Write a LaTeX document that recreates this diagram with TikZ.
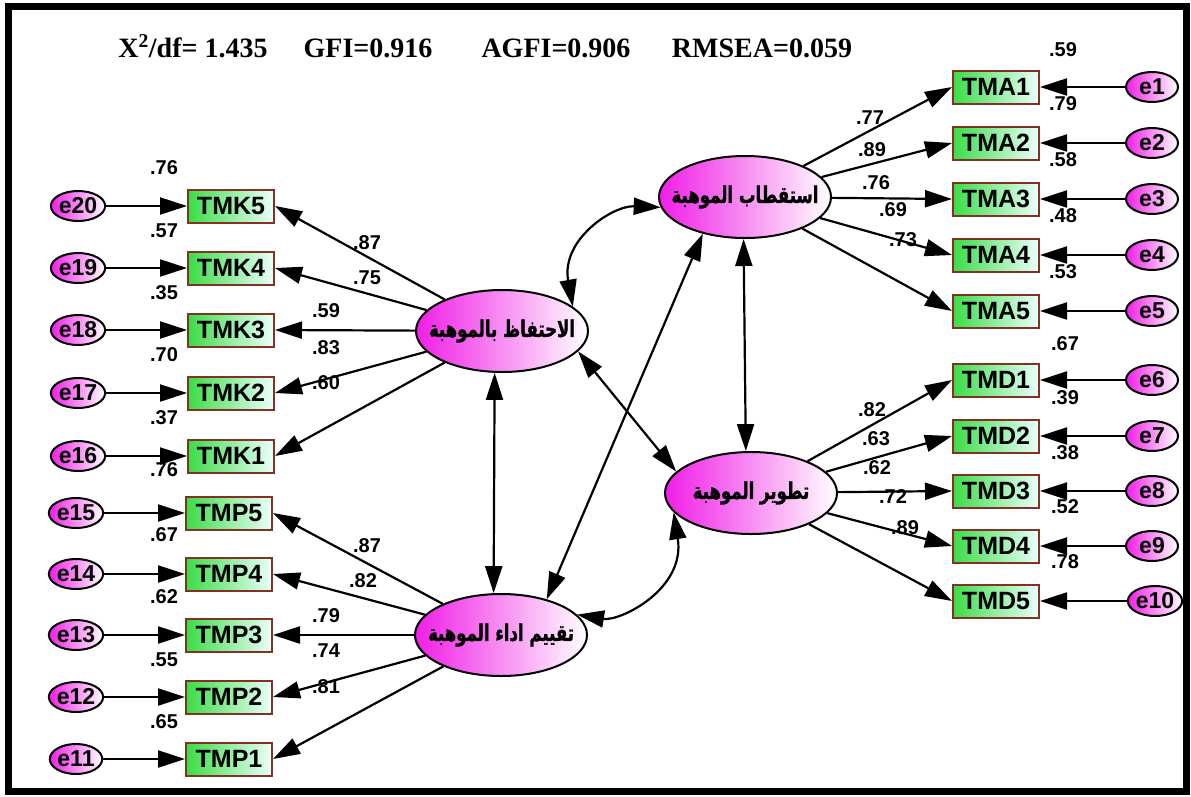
\documentclass[tikz,border=0pt]{standalone}
\usepackage{fontspec}
\setmainfont{Liberation Sans}
\newfontfamily\arabicfont[Script=Arabic,FakeStretch=0.72,FakeBold=1.2]{DejaVu Sans}
\newfontfamily\headfont{Liberation Serif}
\TeXXeTstate=1
\usetikzlibrary{arrows.meta,shapes.geometric}

\definecolor{magfill}{RGB}{240,30,230}
\definecolor{magmid}{RGB}{248,140,242}
\definecolor{boxgreen}{RGB}{60,220,70}
\definecolor{boxlight}{RGB}{235,255,252}
\definecolor{boxedge}{RGB}{130,50,35}

\tikzset{
  latent/.style={ellipse, draw, line width=2pt, left color=magfill, middle color=magmid, right color=white,
    minimum width=172pt, minimum height=82pt, inner xsep=-30pt, inner ysep=0pt,
    font=\arabicfont\bfseries\fontsize{23}{23}\selectfont},
  obs/.style={rectangle, draw=boxedge, line width=2pt, left color=boxgreen, right color=boxlight,
    minimum width=86pt, minimum height=33pt, inner sep=0pt,
    font=\bfseries\fontsize{25}{25}\selectfont},
  err/.style={ellipse, draw, line width=2pt, left color=magfill, right color=white,
    minimum width=52pt, minimum height=30pt, inner sep=0pt,
    font=\bfseries\fontsize{23}{23}\selectfont},
  val/.style={font=\bfseries\fontsize{20}{20}\selectfont, inner sep=0pt},
  head/.style={font=\headfont\bfseries\fontsize{28}{28}\selectfont, inner sep=0pt, anchor=base},
  arr/.style={line width=2.2pt, -{Triangle[length=27pt,width=17pt]}},
  darr/.style={line width=2.2pt, {Triangle[length=27pt,width=17pt]}-{Triangle[length=27pt,width=17pt]}}
}

\begin{document}
\begin{tikzpicture}[x=1pt,y=-1pt]
  % canvas and frame
  \fill[white] (0,0) rectangle (1191,796);
  \useasboundingbox (0,0) rectangle (1191,796);
  \draw[line width=7pt] (8.5,6) rectangle (1186,791.5);

  % fit indices
  \node[head] (chi)   at (193,57) {X\textsuperscript{2}/df= 1.435};
  \node[head] (gfi)   at (368,57) {GFI=0.916};
  \node[head] (agfi)  at (556,57) {AGFI=0.906};
  \node[head] (rmsea) at (762,57) {RMSEA=0.059};

  % latent factors
  \node[latent] (F1) at (745,197) {\beginR استقطاب الموهبة\endR};
  \node[latent] (F2) at (502,331) {\beginR الاحتفاظ بالموهبة\endR};
  \node[latent] (F3) at (751,493) {\beginR تطوير الموهبة\endR};
  \node[latent] (F4) at (501,635) {\beginR تقييم اداء الموهبة\endR};

  % indicators of F1 and F3 (right side)
  \foreach \i/\y in {1/87,2/143,3/199,4/255,5/311} {
    \node[obs] (TMA\i) at (996,\y) {TMA\i};
    \node[err] (e\i) at (1152,\y) {e\i};
    \draw[arr] (e\i) -- (TMA\i);
    \draw[arr] (F1) -- (TMA\i.west);
  }
  \foreach \i/\e/\y/\ex in {1/6/380/1152,2/7/436/1152,3/8/491/1152,4/9/546/1152,5/10/601/1155} {
    \node[obs] (TMD\i) at (996,\y) {TMD\i};
    \node[err] (e\e) at (\ex,\y) {e\e};
    \draw[arr] (e\e) -- (TMD\i);
    \draw[arr] (F3) -- (TMD\i.west);
  }

  % indicators of F2 and F4 (left side)
  \foreach \i/\e/\y in {5/20/206,4/19/268,3/18/330,2/17/393,1/16/456} {
    \node[obs] (TMK\i) at (231,\y) {TMK\i};
    \node[err] (e\e) at (78,\y) {e\e};
    \draw[arr] (e\e) -- (TMK\i);
    \draw[arr] (F2) -- (TMK\i.east);
  }
  \foreach \i/\e/\y in {5/15/513,4/14/574,3/13/635,2/12/697,1/11/759} {
    \node[obs] (TMP\i) at (229,\y) {TMP\i};
    \node[err] (e\e) at (76,\y) {e\e};
    \draw[arr] (e\e) -- (TMP\i);
    \draw[arr] (F4) -- (TMP\i.east);
  }

  % factor covariances
  \draw[darr] (F2.19) .. controls +(-12,-67) and +(-48,-2) .. (F1.187);
  \draw[darr] (F3.194) .. controls +(12,77) and +(43,7) .. (F4.15);
  \draw[darr] (F1.268) -- (F3.97);
  \draw[darr] (F2.260) -- (F4.100);
  \draw[darr] (F2.-15) -- (F3.164);
  \draw[darr] (F4.38) -- (F1.221);

  % loadings and squared multiple correlations
  \foreach \n/\x/\y/\t in {
      sa1/1063/50/.59, sa2/1063/104/.79, sa3/1063/160/.58, sa4/1063/216/.48, sa5/1063/272/.53,
      la1/870/118/.77, la2/872/150/.89, la3/876/183/.76, la4/893/210/.69, la5/903/240/.73,
      sd1/1065/344/.67, sd2/1065/398/.39, sd3/1065/453/.38, sd4/1065/507/.52, sd5/1065/562/.78,
      ld1/872/410/.82, ld2/876/439/.63, ld3/877/468/.62, ld4/893/497/.72, ld5/905/528/.89,
      sk5/164/168/.76, sk4/164/231/.57, sk3/164/293/.35, sk2/164/355/.70, sk1/164/418/.37,
      lk5/367/243/.87, lk4/367/278/.75, lk3/326/311/.59, lk2/326/348/.83, lk1/326/383/.60,
      sp5/164/470/.76, sp4/164/535/.67, sp3/164/597/.62, sp2/164/660/.55, sp1/164/722/.65,
      lp5/367/546/.87, lp4/363/581/.82, lp3/326/616/.79, lp2/326/651/.74, lp1/326/687/.81} {
    \node[val] (\n) at (\x,\y) {\t};
  }
\end{tikzpicture}
\end{document}
